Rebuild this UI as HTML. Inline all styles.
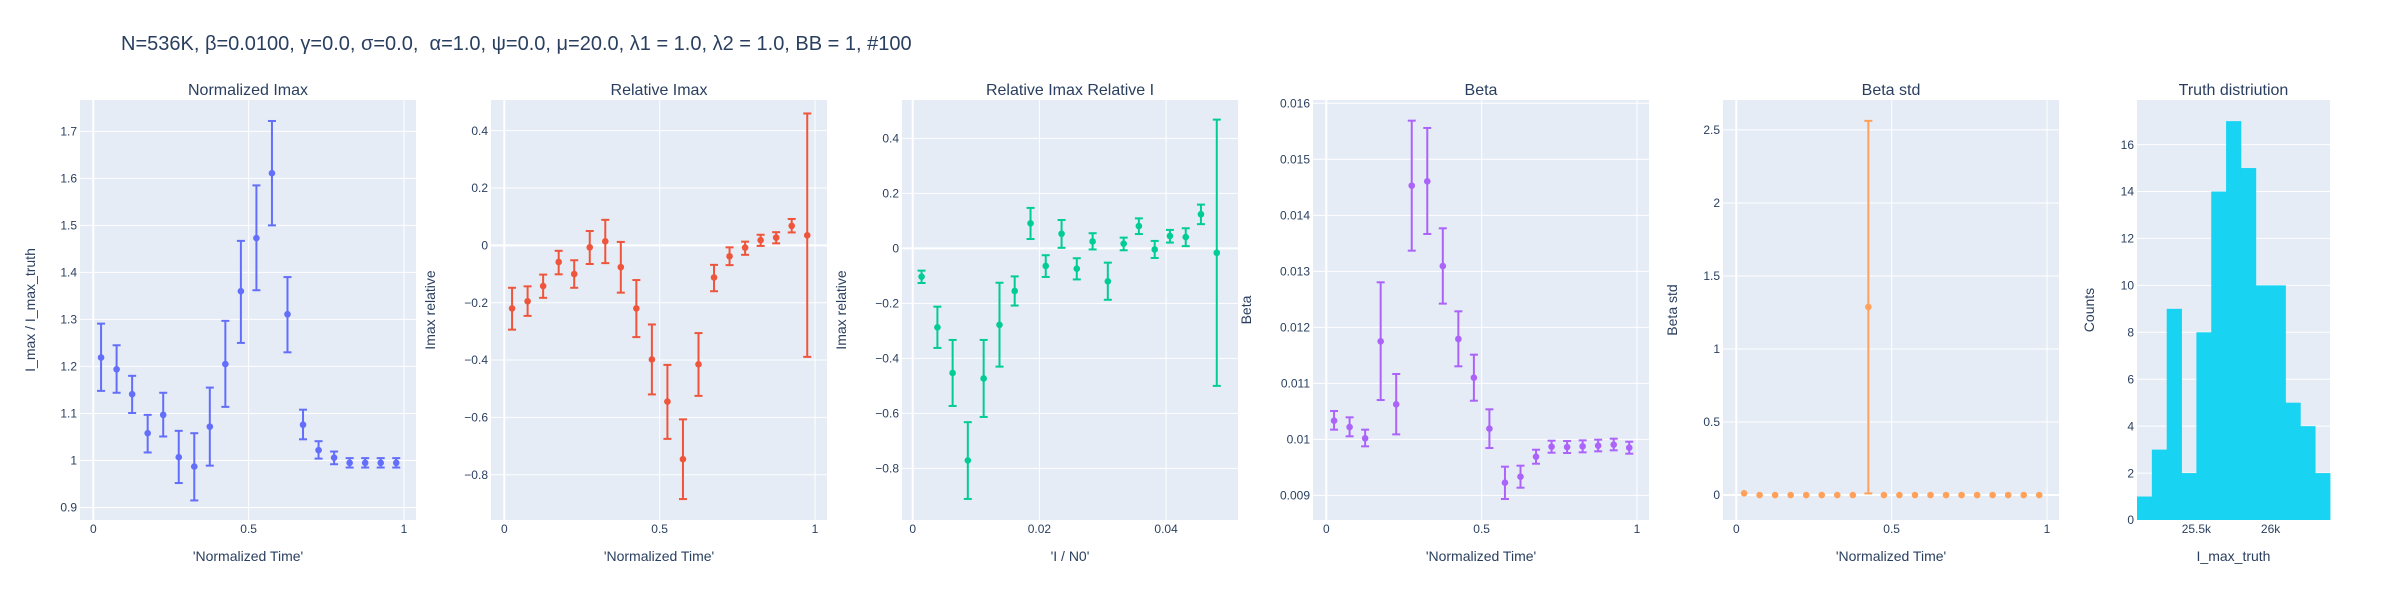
<!DOCTYPE html>
<html><head><meta charset="utf-8"><title>Chart</title>
<style>
html,body{margin:0;padding:0;background:#fff;}
svg text{font-family:"Liberation Sans",Arial,sans-serif;fill:#2a3f5f;}
</style></head>
<body>
<svg id="chart" width="2400" height="600" viewBox="0 0 2400 600" xmlns="http://www.w3.org/2000/svg">
<text x="121" y="50" font-size="20" style="white-space:pre" xml:space="preserve">N=536K, β=0.0100, γ=0.0, σ=0.0,  α=1.0, ψ=0.0, μ=20.0, λ1 = 1.0, λ2 = 1.0, BB = 1, #100</text>
</svg>
<script>
// ---------- shared categories ----------
const timeX = [0.025,0.075,0.125,0.175,0.225,0.275,0.325,0.375,0.425,0.475,0.525,0.575,0.625,0.675,0.725,0.775,0.825,0.875,0.925,0.975];
const timeTicks = [0,0.5,1];
const timeTickLabels = ["0","0.5","1"];

// ---------- panel 1: Normalized Imax ----------
const imaxNormValues = [1.219,1.194,1.141,1.058,1.097,1.007,0.987,1.072,1.205,1.360,1.473,1.611,1.311,1.076,1.022,1.006,0.995,0.995,0.995,0.995];
const imaxNormHigh = [1.291,1.245,1.180,1.097,1.144,1.063,1.058,1.155,1.297,1.467,1.585,1.722,1.390,1.108,1.041,1.019,1.005,1.005,1.005,1.005];
const imaxNormLow = [1.148,1.144,1.101,1.017,1.051,0.952,0.915,0.989,1.114,1.250,1.362,1.500,1.230,1.045,1.004,0.992,0.985,0.985,0.985,0.985];
const imaxNormTicks = [0.9,1.0,1.1,1.2,1.3,1.4,1.5,1.6,1.7];
const imaxNormTickLabels = ["0.9","1","1.1","1.2","1.3","1.4","1.5","1.6","1.7"];

// ---------- panel 2: Relative Imax ----------
const relImaxValues = [-0.220,-0.195,-0.142,-0.058,-0.100,-0.007,0.014,-0.076,-0.220,-0.398,-0.545,-0.746,-0.415,-0.112,-0.038,-0.008,0.018,0.027,0.068,0.035];
const relImaxHigh = [-0.148,-0.143,-0.102,-0.019,-0.052,0.050,0.089,0.012,-0.121,-0.276,-0.417,-0.607,-0.306,-0.068,-0.007,0.013,0.037,0.046,0.092,0.460];
const relImaxLow = [-0.294,-0.246,-0.183,-0.101,-0.148,-0.065,-0.062,-0.165,-0.320,-0.520,-0.675,-0.885,-0.525,-0.160,-0.069,-0.033,-0.002,0.007,0.045,-0.389];
const relTicks = [-0.8,-0.6,-0.4,-0.2,0,0.2,0.4];
const relTickLabels = ["\u22120.8","\u22120.6","\u22120.4","\u22120.2","0","0.2","0.4"];

// ---------- panel 3: Relative Imax Relative I ----------
const relIX = [0.0014,0.0039,0.0063,0.0087,0.0112,0.0137,0.0161,0.0186,0.0210,0.0235,0.0259,0.0284,0.0308,0.0333,0.0357,0.0382,0.0406,0.0431,0.0455,0.0480];
const relIValues = [-0.103,-0.287,-0.453,-0.771,-0.473,-0.278,-0.155,0.091,-0.064,0.053,-0.074,0.025,-0.120,0.017,0.081,-0.004,0.045,0.041,0.124,-0.016];
const relIHigh = [-0.081,-0.212,-0.333,-0.632,-0.333,-0.125,-0.102,0.147,-0.025,0.103,-0.036,0.055,-0.052,0.039,0.109,0.027,0.067,0.073,0.159,0.468];
const relILow = [-0.126,-0.362,-0.573,-0.911,-0.613,-0.430,-0.208,0.034,-0.104,0.002,-0.113,-0.004,-0.187,-0.007,0.052,-0.035,0.021,0.008,0.088,-0.500];
const relIXTicks = [0,0.02,0.04];
const relIXTickLabels = ["0","0.02","0.04"];

// ---------- panel 4: Beta ----------
const betaValues = [0.010333,0.01022,0.010018,0.01175,0.010625,0.01453,0.014607,0.013095,0.011792,0.011101,0.01019,0.009226,0.009333,0.00969,0.009869,0.009863,0.009875,0.009887,0.009905,0.009851];
const betaHigh = [0.010506,0.010393,0.010173,0.012804,0.011167,0.01569,0.01556,0.013768,0.012286,0.011512,0.010536,0.009512,0.00953,0.009815,0.009976,0.00997,0.009982,0.009994,0.010012,0.009958];
const betaLow = [0.010173,0.010054,0.009875,0.010702,0.010089,0.013369,0.013667,0.012423,0.011304,0.01069,0.009845,0.008935,0.009137,0.009565,0.009762,0.009756,0.009768,0.009786,0.009804,0.009744];
const betaTicks = [0.009,0.010,0.011,0.012,0.013,0.014,0.015,0.016];
const betaTickLabels = ["0.009","0.01","0.011","0.012","0.013","0.014","0.015","0.016"];

// ---------- panel 5: Beta std ----------
const betaStdValues = [0.012,0,0,0,0,0,0,0,1.288,0,0,0,0,0,0,0,0,0,0,0];
const betaStdHigh = [0.012,0,0,0,0,0,0,0,2.562,0,0,0,0,0,0,0,0,0,0,0];
const betaStdLow = [0.012,0,0,0,0,0,0,0,0.011,0,0,0,0,0,0,0,0,0,0,0];
const betaStdTicks = [0,0.5,1,1.5,2,2.5];
const betaStdTickLabels = ["0","0.5","1","1.5","2","2.5"];

// ---------- panel 6: Truth distribution ----------
const histBinStarts = [25100,25200,25300,25400,25500,25600,25700,25800,25900,26000,26100,26200,26300];
const histBinWidth = 100;
const histCounts = [1,3,9,2,8,14,17,15,10,10,5,4,2];
const histYTicks = [0,2,4,6,8,10,12,14,16];
const histYTickLabels = ["0","2","4","6","8","10","12","14","16"];
const histXTicks = [25500,26000];
const histXTickLabels = ["25.5k","26k"];

const NS = "http://www.w3.org/2000/svg";
const svg = document.getElementById("chart");
const TOP = 100, BOTTOM = 520;

function mk(tag, attrs, parent){
  const e = document.createElementNS(NS, tag);
  for (const k in attrs) e.setAttribute(k, attrs[k]);
  (parent||svg).appendChild(e);
  return e;
}
function scaleFn(d0,d1,r0,r1){ return v => r0 + (v-d0)/(d1-d0)*(r1-r0); }

function panel(p){
  const g = mk("g", {});
  
  
  const sx = scaleFn(p.xr[0], p.xr[1], p.left, p.right);
  const sy = scaleFn(p.yr[0], p.yr[1], BOTTOM, TOP);
  const bg = mk("rect", {x:p.left, y:TOP, width:p.right-p.left, height:BOTTOM-TOP, fill:"#E5ECF6"}, g);
  
  
  p.yt.forEach((v,i) => {
    const y = sy(v);
    const ln = mk("line", {x1:p.left, x2:p.right, y1:y, y2:y, stroke:"#fff", "stroke-width": (v===0 && p.yr[0]<0) ? 2 : 1}, g);
    
    
    const t = mk("text", {x:p.left-3, y:y+4.2, "font-size":12, "text-anchor":"end"}, g);
    t.textContent = p.ytl[i];
    
    
  });
  p.xt.forEach((v,i) => {
    const x = sx(v);
    if (!p.noXGrid) {
      const ln = mk("line", {x1:x, x2:x, y1:TOP, y2:BOTTOM, stroke:"#fff", "stroke-width": (v===0) ? 2 : 1}, g);
      
      
    }
    const t = mk("text", {x:x, y:533, "font-size":12, "text-anchor":"middle"}, g);
    t.textContent = p.xtl[i];
    
    
  });
  const title = mk("text", {x:(p.left+p.right)/2, y:95, "font-size":16, "text-anchor":"middle"}, g);
  title.textContent = p.title;
  
  
  const xt = mk("text", {x:(p.left+p.right)/2, y:561, "font-size":14, "text-anchor":"middle"}, g);
  xt.textContent = p.xtitle;
  
  
  const yx = p.left - p.ytOff, yy = (TOP+BOTTOM)/2;
  const yt = mk("text", {x:yx, y:yy, "font-size":14, "text-anchor":"middle", transform:"rotate(-90 "+yx+" "+yy+")", dy:"5"}, g);
  yt.textContent = p.ytitle;
  
  
  return {g, sx, sy};
}

function errorSeries(ctx, xs, vals, hi, lo, color){
  const {g, sx, sy} = ctx;
  xs.forEach((xv,i) => {
    const x = sx(xv), y1 = sy(hi[i]), y0 = sy(lo[i]);
    const eg = mk("g", {stroke:color, "stroke-width":2, fill:"none"}, g);
    
    
    if (Math.abs(y0-y1) > 0.5) {
      mk("line", {x1:x, x2:x, y1:y1, y2:y0}, eg);
      mk("line", {x1:x-4, x2:x+4, y1:y1, y2:y1}, eg);
      mk("line", {x1:x-4, x2:x+4, y1:y0, y2:y0}, eg);
    }
    const c = mk("circle", {cx:x, cy:sy(vals[i]), r:3.3, fill:color}, g);
    
    
  });
}

const timeRange = [-0.0428, 1.0386];

const c1 = panel({name:"normalized-imax", left:80, right:416, xr:timeRange, yr:[0.8734,1.7666], xt:timeTicks, xtl:timeTickLabels, yt:imaxNormTicks, ytl:imaxNormTickLabels, title:"Normalized Imax", xtitle:"'Normalized Time'", ytitle:"I_max / I_max_truth", ytOff:50});
errorSeries(c1, timeX, imaxNormValues, imaxNormHigh, imaxNormLow, "#636efa");

const c2 = panel({name:"relative-imax", left:491, right:827, xr:timeRange, yr:[-0.958,0.507], xt:timeTicks, xtl:timeTickLabels, yt:relTicks, ytl:relTickLabels, title:"Relative Imax", xtitle:"'Normalized Time'", ytitle:"Imax relative", ytOff:61});
errorSeries(c2, timeX, relImaxValues, relImaxHigh, relImaxLow, "#EF553B");

const c3 = panel({name:"relative-imax-relative-i", left:902, right:1238, xr:[-0.00169,0.05135], yr:[-0.9876,0.5393], xt:relIXTicks, xtl:relIXTickLabels, yt:relTicks, ytl:relTickLabels, title:"Relative Imax Relative I", xtitle:"'I / N0'", ytitle:"Imax relative", ytOff:61});
errorSeries(c3, relIX, relIValues, relIHigh, relILow, "#00cc96");

const c4 = panel({name:"beta", left:1313, right:1649, xr:timeRange, yr:[0.00856,0.016059], xt:timeTicks, xtl:timeTickLabels, yt:betaTicks, ytl:betaTickLabels, title:"Beta", xtitle:"'Normalized Time'", ytitle:"Beta", ytOff:67});
errorSeries(c4, timeX, betaValues, betaHigh, betaLow, "#ab63fa");

const c5 = panel({name:"beta-std", left:1723, right:2059, xr:timeRange, yr:[-0.171,2.705], xt:timeTicks, xtl:timeTickLabels, yt:betaStdTicks, ytl:betaStdTickLabels, title:"Beta std", xtitle:"'Normalized Time'", ytitle:"Beta std", ytOff:51});
errorSeries(c5, timeX, betaStdValues, betaStdHigh, betaStdLow, "#FFA15A");

const c6 = panel({name:"truth-distribution", left:2137, right:2330, xr:[25100,26400], yr:[0,17.9], xt:histXTicks, xtl:histXTickLabels, yt:histYTicks, ytl:histYTickLabels, title:"Truth distriution", xtitle:"I_max_truth", ytitle:"Counts", ytOff:48, noXGrid:true});
histBinStarts.forEach((b,i) => {
  const x0 = c6.sx(b), x1 = c6.sx(b + histBinWidth), y = c6.sy(histCounts[i]);
  const r = mk("rect", {x:x0, y:y, width:x1-x0+0.4, height:BOTTOM-y, fill:"#19d3f3"}, c6.g);
  
  
});
</script>
</body></html>
